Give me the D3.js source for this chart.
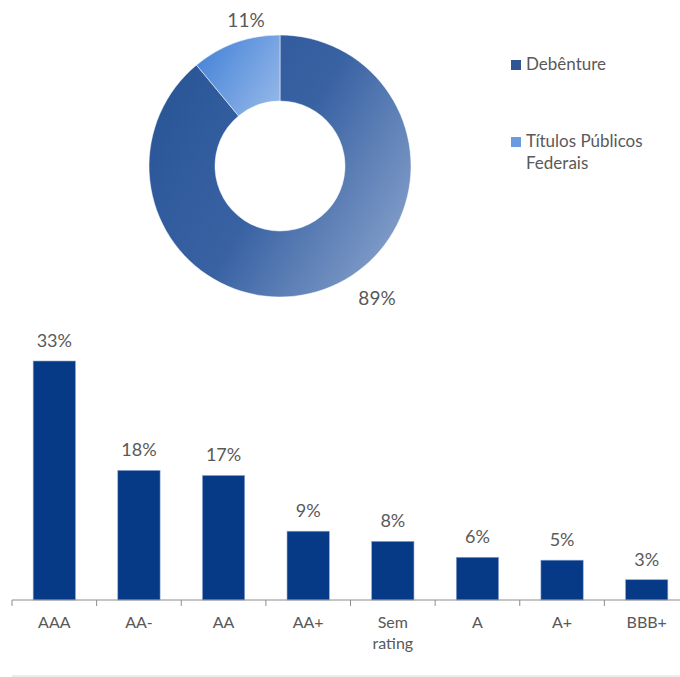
<!DOCTYPE html>
<html>
<head>
<meta charset="utf-8">
<script src="https://cdn.jsdelivr.net/npm/d3@7"></script>
<style>
  body { margin: 0; background: #fff; }
  text { font-family: Lato, "Open Sans", sans-serif; }
</style>
</head>
<body>
<div id="chart"></div>
<script>
// donut data
const pieNames = ['Debênture', 'Títulos Públicos Federais'];
const pieValues = [89, 11];
const pieLabels = ['89%', '11%'];

// bar data
const ratings = ['AAA', 'AA-', 'AA', 'AA+', 'Sem rating', 'A', 'A+', 'BBB+'];
const shares = [33, 17.9, 17.2, 9.5, 8.1, 5.9, 5.5, 2.8];
const shareLabels = ['33%', '18%', '17%', '9%', '8%', '6%', '5%', '3%'];

const width = 680, height = 677;
const textColor = '#595959';

const svg = d3.select('#chart').append('svg')
    .attr('width', width)
    .attr('height', height);

const defs = svg.append('defs');
// gradient for the big slice (coords relative to donut centre)
const g1 = defs.append('linearGradient')
    .attr('id', 'gradDeb')
    .attr('gradientUnits', 'userSpaceOnUse')
    .attr('x1', -110).attr('y1', -60).attr('x2', 125).attr('y2', 80);
g1.append('stop').attr('offset', '0%').attr('stop-color', '#2b5799');
g1.append('stop').attr('offset', '45%').attr('stop-color', '#3962a3');
g1.append('stop').attr('offset', '100%').attr('stop-color', '#849fca');
// gradient for the small slice
const g2 = defs.append('linearGradient')
    .attr('id', 'gradTit')
    .attr('gradientUnits', 'userSpaceOnUse')
    .attr('x1', -80).attr('y1', -110).attr('x2', 0).attr('y2', -60);
g2.append('stop').attr('offset', '0%').attr('stop-color', '#4a86d8');
g2.append('stop').attr('offset', '100%').attr('stop-color', '#95b8e9');

/* **** DONUT **** */
const cx = 280, cy = 166, outerR = 131, innerR = 65;
const pie = d3.pie().sort(null).value(d => d);
const arc = d3.arc().innerRadius(innerR).outerRadius(outerR);
const fills = ['url(#gradDeb)', 'url(#gradTit)'];

const donut = svg.append('g')
    .attr('transform', `translate(${cx},${cy})`);

const arcs = pie(pieValues);
donut.selectAll('path')
    .data(arcs)
    .join('path')
    .attr('d', arc)
    .attr('fill', (d, i) => fills[i])
    .attr('stroke', '#fff')
    .attr('stroke-width', 0.5);

// outside labels
donut.selectAll('text')
    .data(arcs)
    .join('text')
    .attr('x', (d, i) => i === 0 ? 97 : -34)
    .attr('y', (d, i) => i === 0 ? 139 : -139)
    .attr('text-anchor', 'middle')
    .attr('font-size', 19)
    .attr('fill', textColor)
    .text((d, i) => pieLabels[i]);

// legend
const legendColors = ['#2f5597', '#6a9be0'];
const legend = svg.append('g').attr('transform', 'translate(511,0)');
const legendRows = [[pieNames[0]], ['Títulos Públicos', 'Federais']];
const legendY = [70, 147];
legendRows.forEach((lines, i) => {
    legend.append('rect')
        .attr('x', 0).attr('y', legendY[i] - 10)
        .attr('width', 10).attr('height', 10)
        .attr('fill', legendColors[i]);
    const t = legend.append('text')
        .attr('x', 15).attr('y', legendY[i])
        .attr('font-size', 17)
        .attr('fill', textColor);
    lines.forEach((l, j) => {
        t.append('tspan').attr('x', 15).attr('dy', j === 0 ? 0 : 22).text(l);
    });
});

/* **** BARS **** */
const baseY = 600;
const x = d3.scaleBand()
    .domain(ratings)
    .range([12, 689])
    .paddingInner(0.5)
    .paddingOuter(0.25);
const y = d3.scaleLinear()
    .domain([0, 33])
    .range([baseY, 361]);

const bars = svg.append('g');
bars.selectAll('rect')
    .data(shares)
    .join('rect')
    .attr('x', (d, i) => x(ratings[i]))
    .attr('y', d => y(d))
    .attr('width', x.bandwidth())
    .attr('height', d => baseY - y(d))
    .attr('fill', '#063a87')
    .attr('stroke', '#8fa8d4')
    .attr('stroke-width', 0.6);

bars.selectAll('text.val')
    .data(shares)
    .join('text')
    .attr('class', 'val')
    .attr('x', (d, i) => x(ratings[i]) + x.bandwidth() / 2)
    .attr('y', d => y(d) - 14)
    .attr('text-anchor', 'middle')
    .attr('font-size', 18)
    .attr('fill', textColor)
    .text((d, i) => shareLabels[i]);

// x axis
const xAxis = svg.append('g')
    .attr('transform', `translate(0,${baseY})`);
xAxis.append('line')
    .attr('x1', 12).attr('x2', 680)
    .attr('stroke', '#8c8c8c').attr('stroke-width', 1);
const step = x.step();
const bounds = d3.range(ratings.length + 1).map(i => 12 + i * step);
xAxis.selectAll('line.tick')
    .data(bounds)
    .join('line')
    .attr('class', 'tick')
    .attr('x1', d => d).attr('x2', d => d)
    .attr('y1', 0).attr('y2', 6)
    .attr('stroke', '#8c8c8c');

xAxis.selectAll('text')
    .data(ratings)
    .join('text')
    .attr('x', d => x(d) + x.bandwidth() / 2)
    .attr('y', 28)
    .attr('text-anchor', 'middle')
    .attr('font-size', 16)
    .attr('fill', textColor)
    .each(function (d) {
        const words = d === 'Sem rating' ? ['Sem', 'rating'] : [d];
        const t = d3.select(this);
        words.forEach((w, j) => {
            t.append('tspan')
                .attr('x', x(d) + x.bandwidth() / 2)
                .attr('dy', j === 0 ? 0 : 21)
                .text(w);
        });
    });

// faint bottom rule
svg.append('line')
    .attr('x1', 12).attr('x2', 680)
    .attr('y1', 676).attr('y2', 676)
    .attr('stroke', '#ececec').attr('stroke-width', 2);
</script>
</body>
</html>
